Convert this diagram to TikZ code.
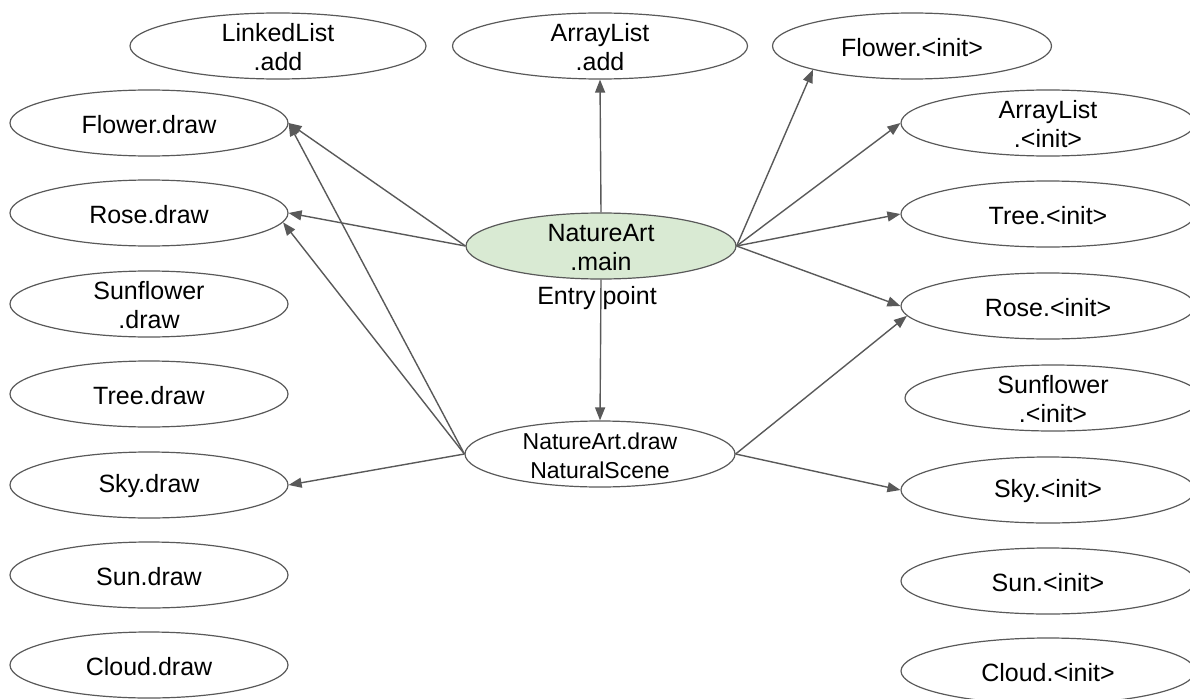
\documentclass[tikz,border=0pt]{standalone}
\usepackage{fontspec}
\setmainfont{Liberation Sans}
\usetikzlibrary{shapes.geometric,arrows.meta}
\definecolor{edgegray}{HTML}{595959}
\definecolor{mainfill}{HTML}{D9EAD3}
\begin{document}
\begin{tikzpicture}[x=1pt,y=-1pt,
  oval/.style={ellipse, draw=edgegray, line width=1.2pt, minimum height=66pt, inner sep=0pt},
  lbl/.style={align=center, inner sep=0pt, font=\fontsize{25}{29}\selectfont},
  lblsmall/.style={align=center, inner sep=0pt, font=\fontsize{23}{29}\selectfont},
  call/.style={draw=edgegray, line width=1.4pt, -{Triangle[length=13pt,width=10pt]}}]
\useasboundingbox (0,0) rectangle (1190,698);

% left column: draw methods
\node[oval, minimum width=296pt] (lladd) at (278,46) {};
\node[lbl] at ([yshift=-1.5pt]lladd) {LinkedList\\.add};
\node[oval, minimum width=278pt] (fdraw) at (149,123) {};
\node[lbl] at ([yshift=-1.5pt]fdraw) {Flower.draw};
\node[oval, minimum width=278pt] (rdraw) at (149,213) {};
\node[lbl] at ([yshift=-1.5pt]rdraw) {Rose.draw};
\node[oval, minimum width=278pt] (sfdraw) at (149,304) {};
\node[lbl] at ([yshift=-1.5pt]sfdraw) {Sunflower\\.draw};
\node[oval, minimum width=278pt] (tdraw) at (149,394) {};
\node[lbl] at ([yshift=-1.5pt]tdraw) {Tree.draw};
\node[oval, minimum width=278pt] (skydraw) at (149,485) {};
\node[lbl] at ([yshift=-1.5pt]skydraw) {Sky.draw};
\node[oval, minimum width=278pt] (sundraw) at (149,575) {};
\node[lbl] at ([yshift=-1.5pt]sundraw) {Sun.draw};
\node[oval, minimum width=278pt] (cdraw) at (149,665) {};
\node[lbl] at ([yshift=-1.5pt]cdraw) {Cloud.draw};

% middle column
\node[oval, minimum width=295pt] (aladd) at (600,46) {};
\node[lbl] at ([yshift=-1.5pt]aladd) {ArrayList\\.add};
\node[oval, minimum width=270pt, fill=mainfill] (main) at (601,246) {};
\node[lbl] at ([yshift=-1.5pt]main) {NatureArt\\.main};
\node[lbl] (entry) at (597,298) {Entry point};
\node[oval, minimum width=270pt] (nadraw) at (600,454) {};
\node[lblsmall] at ([yshift=-1.5pt]nadraw) {NatureArt.draw\\NaturalScene};

% right column: constructors
\node[oval, minimum width=279pt] (finit) at (912,46) {};
\node[lbl] at ([yshift=-1.5pt]finit) {Flower.<init>};
\node[oval, minimum width=294pt] (alinit) at (1048,123) {};
\node[lbl] at ([yshift=-1.5pt]alinit) {ArrayList\\.<init>};
\node[oval, minimum width=294pt] (tinit) at (1048,214) {};
\node[lbl] at ([yshift=-1.5pt]tinit) {Tree.<init>};
\node[oval, minimum width=294pt] (rinit) at (1048,306) {};
\node[lbl] at ([yshift=-1.5pt]rinit) {Rose.<init>};
\node[oval, minimum width=296pt] (sfinit) at (1053,398) {};
\node[lbl] at ([yshift=-1.5pt]sfinit) {Sunflower\\.<init>};
\node[oval, minimum width=294pt] (skyinit) at (1048,490) {};
\node[lbl] at ([yshift=-1.5pt]skyinit) {Sky.<init>};
\node[oval, minimum width=294pt] (suninit) at (1048,581) {};
\node[lbl] at ([yshift=-1.5pt]suninit) {Sun.<init>};
\node[oval, minimum width=294pt] (cinit) at (1048,671) {};
\node[lbl] at ([yshift=-1.5pt]cinit) {Cloud.<init>};

% calls from main
\draw[call] (main.north) -- (aladd.south);
\draw[call] (main.south) -- (nadraw.north);
\draw[call] (main.west) -- (fdraw.east);
\draw[call] (main.west) -- (rdraw.east);
\draw[call] (main.east) -- (finit.south west);
\draw[call] (main.east) -- (alinit.west);
\draw[call] (main.east) -- (tinit.west);
\draw[call] (main.east) -- (rinit.west);

% calls from NatureArt.draw
\draw[call] (nadraw.west) -- (fdraw.east);
\draw[call] (nadraw.west) -- (rdraw.356);
\draw[call] (nadraw.west) -- (skydraw.east);
\draw[call] (nadraw.east) -- (rinit.184);
\draw[call] (nadraw.east) -- (skyinit.west);
\end{tikzpicture}
\end{document}
